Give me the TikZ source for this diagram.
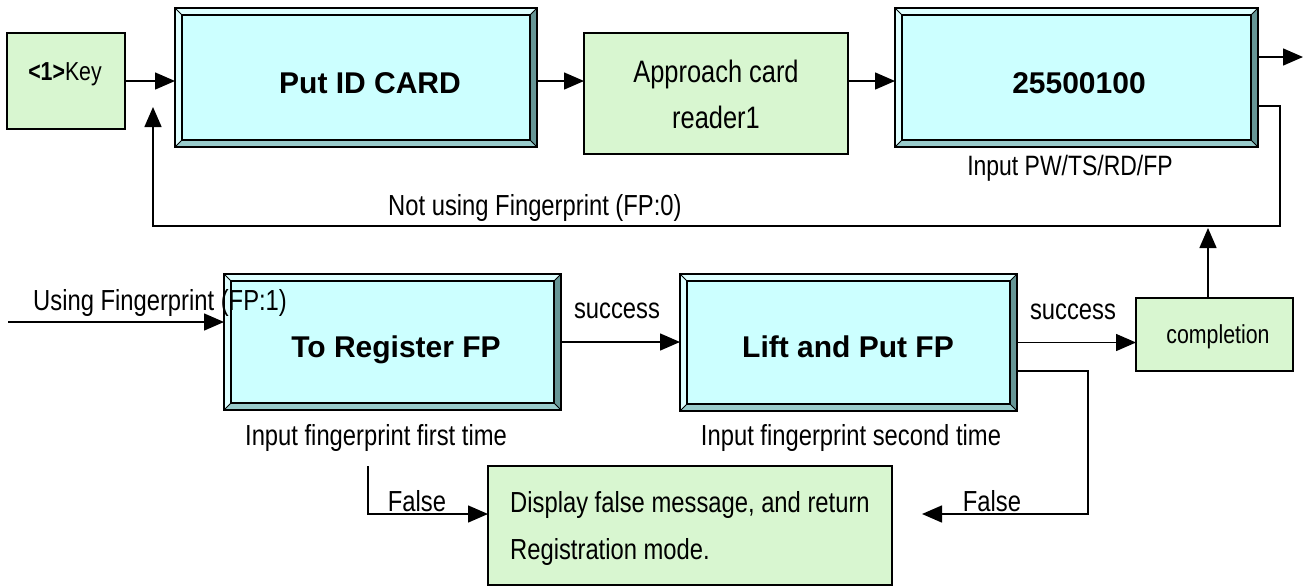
\documentclass[tikz,border=0pt]{standalone}
\usepackage{fontspec}
\setmainfont{Liberation Sans}
\newfontfamily\narrowfont[FakeStretch=0.82]{Liberation Sans}
\usetikzlibrary{arrows.meta,fit}
\definecolor{facec}{RGB}{204,255,255}
\definecolor{bevlight}{RGB}{222,255,255}
\definecolor{bevmid}{RGB}{153,204,204}
\definecolor{bevdark}{RGB}{102,150,150}
\definecolor{greenc}{RGB}{216,246,208}
\newcommand\bevelbox[5]{%
 \fill[facec] (#2,#3) rectangle (#4,#5);
 \fill[bevlight] (#2,#3) -- (#4,#3) -- (#4-7,#3+7) -- (#2+7,#3+7) -- (#2+7,#5-7) -- (#2,#5) -- cycle;
 \fill[bevmid] (#2,#5) -- (#2+7,#5-7) -- (#4-7,#5-7) -- (#4,#5) -- cycle;
 \fill[bevdark] (#4,#3) -- (#4,#5) -- (#4-7,#5-7) -- (#4-7,#3+7) -- cycle;
 \draw[line width=1.3pt] (#2+7,#3+7) rectangle (#4-7,#5-7);
 \draw[line width=0.8pt] (#2,#3) -- (#2+7,#3+7) (#4,#3) -- (#4-7,#3+7) (#4,#5) -- (#4-7,#5-7) (#2,#5) -- (#2+7,#5-7);
 \node[draw, line width=1.6pt, inner sep=0pt, outer sep=0pt, fit={(#2,#3)(#4,#5)}] (#1) {};
}
\begin{document}
\begin{tikzpicture}[x=1pt,y=-1pt,
  gbox/.style={draw, line width=1.2pt, fill=greenc, inner sep=0pt, outer sep=0pt},
  arr/.style={line width=1.5pt, -{Triangle[length=20pt,width=17pt]}},
  lbl/.style={inner sep=0pt, anchor=base, font=\narrowfont\fontsize{29}{34}\selectfont},
  lblw/.style={lbl, anchor=base west},
  big/.style={inner sep=0pt, anchor=base, font=\bfseries\fontsize{30}{36}\selectfont}]
\useasboundingbox (0,0) rectangle (1304,587);
% boxes
\node[gbox, fit={(7,33)(125,129)}] (key) {};
\bevelbox{putid}{175}{8}{537}{147}
\node[gbox, fit={(584,33)(848,154)}] (appr) {};
\bevelbox{code}{895}{8}{1258}{147}
\bevelbox{reg}{224}{274}{561}{410}
\bevelbox{lift}{680}{274}{1017}{411}
\node[gbox, fit={(1136,298)(1293,371)}] (comp) {};
\node[gbox, fit={(488,466)(892,585)}] (disp) {};
% texts
\node[lbl, font=\narrowfont\fontsize{26}{30}\selectfont] (tkey) at (65,80) {\textbf{<1>}Key};
\node[big] (tput) at (370,93) {Put ID CARD};
\node[lbl, font=\narrowfont\fontsize{31}{36}\selectfont] (tappr1) at (716,82) {Approach card};
\node[lbl, font=\narrowfont\fontsize{31}{36}\selectfont] (tappr2) at (716,128) {reader1};
\node[big] (tcode) at (1079,93) {25500100};
\node[lbl, font=\narrowfont\fontsize{28}{32}\selectfont] (tpw) at (1070,175) {Input PW/TS/RD/FP};
\node[lblw] (tnot) at (388,215) {Not using Fingerprint (FP:0)};
\node[lblw] (tuse) at (33,310) {Using Fingerprint (FP:1)};
\node[big] (treg) at (396,357) {To Register FP};
\node[lbl] (ts1) at (617,318) {success};
\node[big] (tlift) at (848,357) {Lift and Put FP};
\node[lbl] (ts2) at (1073,319) {success};
\node[lbl, font=\narrowfont\fontsize{26}{30}\selectfont] (tcomp) at (1218,343) {completion};
\node[lbl] (tfirst) at (376,445) {Input fingerprint first time};
\node[lbl] (tsecond) at (851,445) {Input fingerprint second time};
\node[lbl] (tf1) at (417,511) {False};
\node[lbl] (tf2) at (992,511) {False};
\node[lblw] (td1) at (510,512) {Display false message, and return};
\node[lblw] (td2) at (510,559) {Registration mode.};
% connectors
\draw[arr] (key.east) -- (putid.west |- key.east);
\draw[arr] (putid.east |- key.east) -- (appr.west |- key.east);
\draw[arr] (appr.east |- key.east) -- (code.west |- key.east);
\coordinate (out) at (1303,57);
\draw[arr] (code.east |- out) -- (out);
\coordinate (lpa) at (1280,106);
\coordinate (lpb) at (1280,226);
\coordinate (lptip) at (153,107);
\draw[arr] (code.east |- lpa) -- (lpa) -- (lpb) -- (lpb -| lptip) -- (lptip);
\coordinate (uptip) at (1208,228);
\draw[arr] (uptip |- comp.north) -- (uptip);
\coordinate (ustart) at (8,322);
\draw[arr] (ustart) -- (reg.west |- ustart);
\draw[arr] (reg.east) -- (lift.west |- reg.east);
\draw[arr] (lift.east) -- (comp.west |- lift.east);
\coordinate (f2a) at (1088,371);
\coordinate (f2tip) at (922,514);
\draw[arr] (lift.east |- f2a) -- (f2a) -- (f2a |- f2tip) -- (f2tip);
\coordinate (f1a) at (368,466);
\coordinate (f1b) at (368,514);
\draw[arr] (f1a) -- (f1b) -- (disp.west |- f1b);
\end{tikzpicture}
\end{document}
